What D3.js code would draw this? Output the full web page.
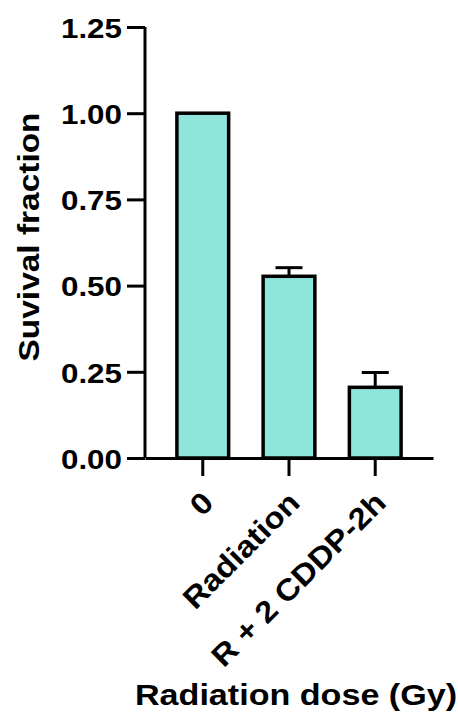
<!DOCTYPE html>
<html lang="en">
<head>
    <meta charset="UTF-8">
    <title>Survival fraction bar chart</title>
    <script src="https://d3js.org/d3.v7.min.js"></script>
    <style>
        body { margin: 0; background: #fff; }
        text { font-family: "Liberation Sans", Arial, sans-serif; font-weight: bold; fill: #000; }
    </style>
</head>
<body>
    <script>
        // Data
        const categories = ["0", "Radiation", "R + 2 CDDP-2h"];
        const survival = [1.0, 0.527, 0.205];
        const sem = [0, 0.025, 0.043];
        const yTicks = [0, 0.25, 0.5, 0.75, 1.0, 1.25];

        const width = 458;
        const height = 720;

        const svg = d3.select("body")
                      .append("svg")
                      .attr("width", width)
                      .attr("height", height);

        // Scales
        const x = d3.scaleBand()
                    .domain(categories)
                    .range([145, 433])
                    .paddingInner(0.4)
                    .paddingOuter(0.37);

        const y = d3.scaleLinear()
                    .domain([0, 1.25])
                    .range([458, 27]);

        // Bars
        svg.selectAll(".bar")
           .data(categories)
           .enter()
           .append("rect")
           .attr("class", "bar")
           .attr("x", d => x(d))
           .attr("width", x.bandwidth())
           .attr("y", (d, i) => y(survival[i]))
           .attr("height", (d, i) => y(0) - y(survival[i]))
           .attr("fill", "#8de5db")
           .attr("stroke", "#000")
           .attr("stroke-width", 3.5);

        // Error bars (upper only)
        const errs = svg.selectAll(".err")
           .data(categories.filter((d, i) => sem[i] > 0))
           .enter()
           .append("g")
           .attr("class", "err");

        const cx = d => x(d) + x.bandwidth() / 2;
        const errTop = d => { const i = categories.indexOf(d); return y(survival[i] + sem[i]); };

        errs.append("line")
            .attr("x1", cx)
            .attr("x2", cx)
            .attr("y1", d => y(survival[categories.indexOf(d)]))
            .attr("y2", errTop)
            .attr("stroke", "#000")
            .attr("stroke-width", 3);

        errs.append("line")
            .attr("x1", d => cx(d) - 13.5)
            .attr("x2", d => cx(d) + 13.5)
            .attr("y1", errTop)
            .attr("y2", errTop)
            .attr("stroke", "#000")
            .attr("stroke-width", 3);

        // Y axis
        const yAxis = svg.append("g")
           .attr("transform", "translate(145,0)")
           .call(d3.axisLeft(y).tickValues(yTicks).tickFormat(d3.format(".2f")).tickSize(18).tickSizeOuter(0).tickPadding(5));

        // X axis
        const xAxis = svg.append("g")
           .attr("transform", "translate(0,458)")
           .call(d3.axisBottom(x).tickSize(18).tickSizeOuter(0));

        svg.selectAll(".domain, .tick line")
           .attr("stroke", "#000")
           .attr("stroke-width", 3);

        // the original font runs a little wider than Liberation Sans
        function widen(sel, k) {
            sel.each(function() {
                const len = this.getComputedTextLength();
                d3.select(this)
                  .attr("textLength", len * k)
                  .attr("lengthAdjust", "spacingAndGlyphs");
            });
        }

        yAxis.selectAll(".tick text")
             .attr("font-size", 28.5)
             .attr("dy", "0.36em")
             .call(widen, 1.1);

        xAxis.selectAll(".tick text")
             .attr("font-size", 30)
             .attr("text-anchor", "end")
             .attr("x", 0)
             .attr("y", 0)
             .attr("dy", "0.35em")
             .attr("transform", "translate(5,39) rotate(-45)")
             .call(widen, 1.1);

        yAxis.select(".domain").attr("d", "M0,458V27");

        // Axis titles
        svg.append("text")
           .attr("transform", "translate(39,237) rotate(-90)")
           .attr("text-anchor", "middle")
           .attr("font-size", 30)
           .attr("textLength", 249)
           .attr("lengthAdjust", "spacingAndGlyphs")
           .text("Suvival fraction");

        svg.append("text")
           .attr("x", 296)
           .attr("y", 705)
           .attr("text-anchor", "middle")
           .attr("font-size", 30)
           .attr("textLength", 322)
           .attr("lengthAdjust", "spacingAndGlyphs")
           .text("Radiation dose (Gy)");
    </script>
</body>
</html>
